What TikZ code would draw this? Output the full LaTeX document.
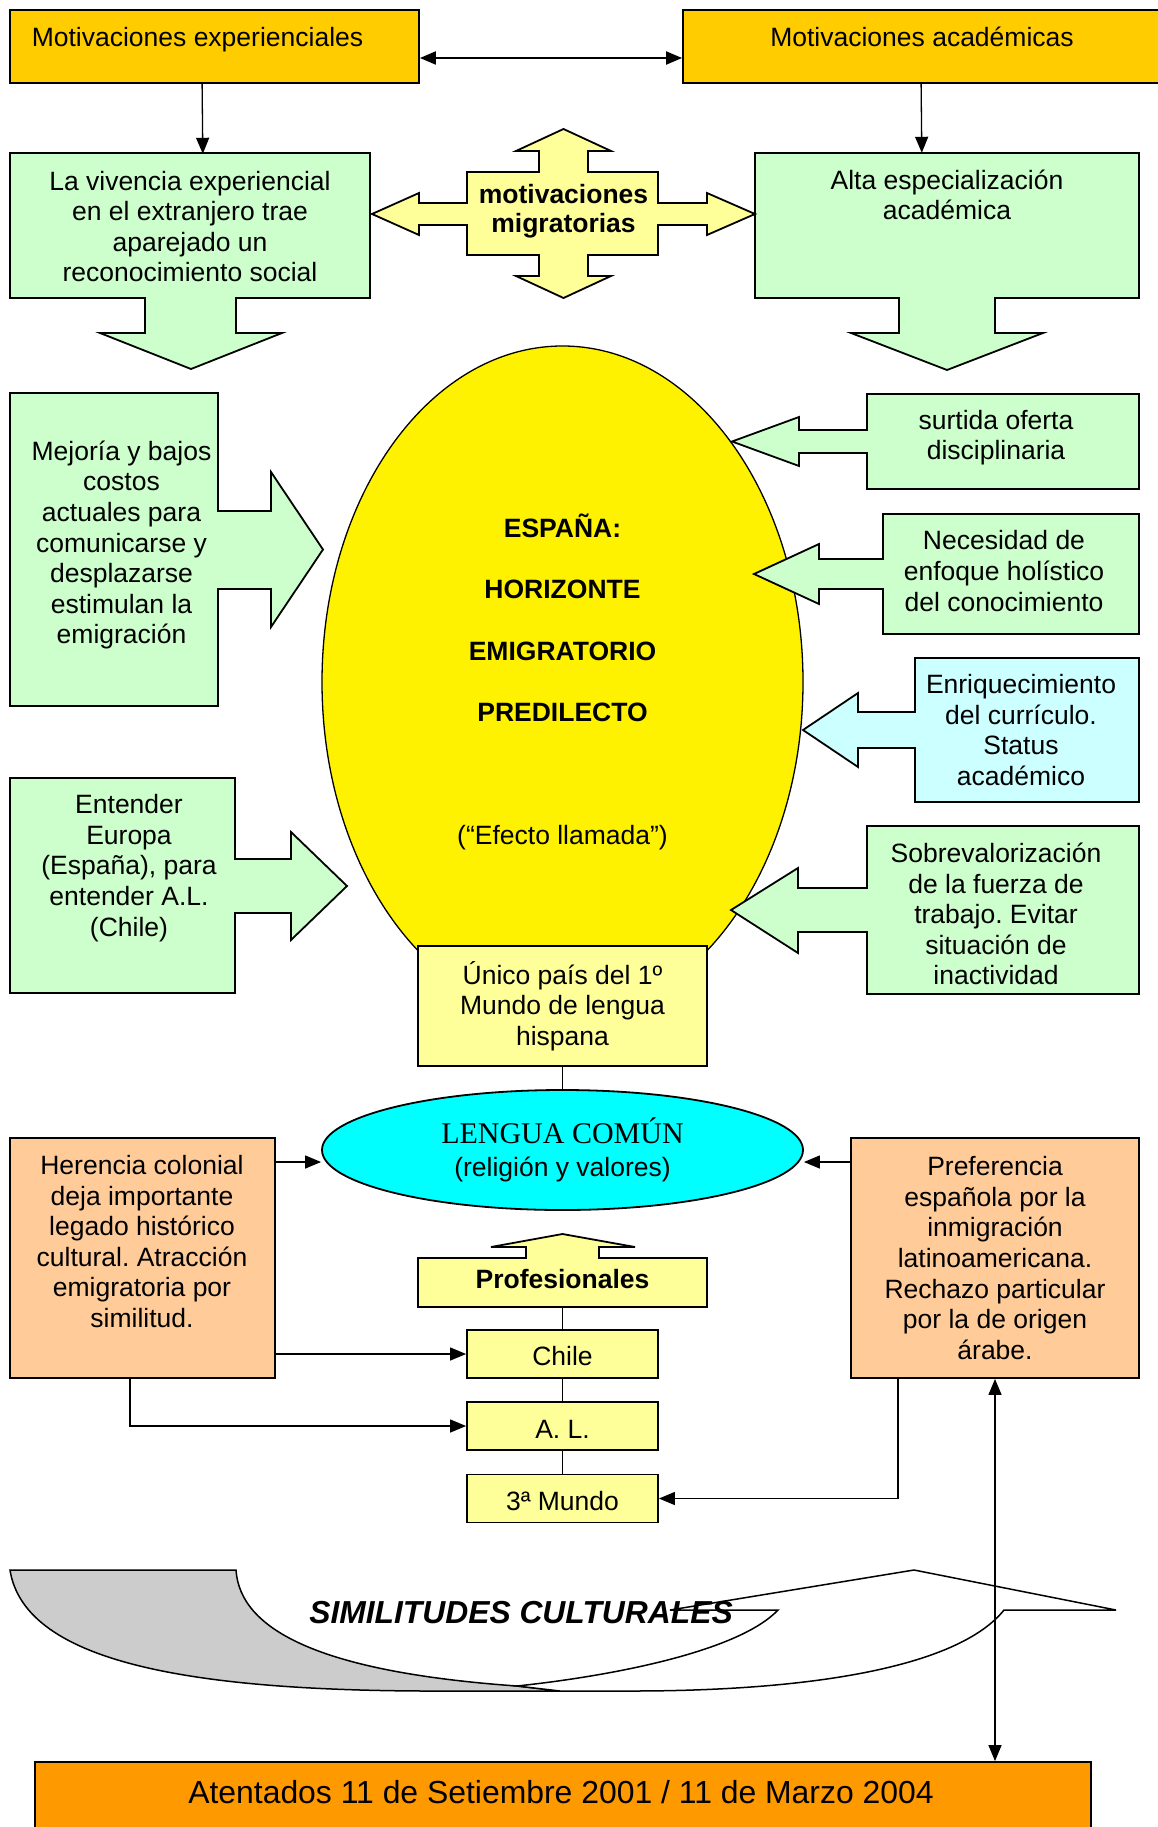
\documentclass[tikz,border=0pt]{standalone}
\usepackage{fontspec}
\setmainfont{Liberation Sans}
\newfontfamily\serifLS{Liberation Serif}
\usetikzlibrary{shapes.geometric,arrows.meta}
\definecolor{gold}{HTML}{FFCC00}
\definecolor{lgreen}{HTML}{CCFFCC}
\definecolor{lyellow}{HTML}{FFFF99}
\definecolor{lcyan}{HTML}{CCFFFF}
\definecolor{peach}{HTML}{FFCC99}
\definecolor{orng}{HTML}{FF9900}
\definecolor{aqua}{HTML}{00FFFF}
\definecolor{lgray}{HTML}{CCCCCC}
\frenchspacing
\begin{document}
\begin{tikzpicture}[x=1pt,y=-1pt,
  shp/.style={draw=black, line width=1.8pt, line join=miter},
  boxn/.style={shp, rectangle, inner sep=0pt},
  hid/.style={rectangle, inner sep=0pt},
  txt/.style={font=\fontsize{26.5}{30.6}\selectfont, align=center, inner sep=0pt},
  btxt/.style={font=\bfseries\fontsize{26.5}{29}\selectfont, align=center, inner sep=0pt},
  conn/.style={draw=black, line width=1.3pt},
  arrtip/.style={-{Triangle[length=16pt,width=13pt]}},
  dbltip/.style={{Triangle[length=16pt,width=13pt]}-{Triangle[length=16pt,width=13pt]}},
  smallbox/.style={boxn, fill=lyellow, txt, minimum width=191pt, minimum height=48pt, text height=24pt}
]
\useasboundingbox (0,0) rectangle (1157,1827);

% top boxes
\node[boxn, fill=gold, minimum width=409pt, minimum height=73pt] (me) at (214.5,46.5) {};
\node[txt] (met) at (197.5,39.5) {Motivaciones experienciales};
\node[boxn, fill=gold, minimum width=482pt, minimum height=73pt] (ma) at (924,46.5) {};
\node[txt] (mat) at (922,37) {Motivaciones académicas};
\coordinate (mL) at ([yshift=-11.5pt]me.east);
\draw[conn, line width=2pt, dbltip] (mL) -- (mL -| ma.west);

% La vivencia
\draw[shp, fill=lgreen] (10,153) -- (370,153) -- (370,298) -- (236,298) -- (236,333) -- (282,333) -- (191,369) -- (100,333) -- (145,333) -- (145,298) -- (10,298) -- cycle;
\node[hid, txt, minimum width=360pt, minimum height=145pt] (lv) at (190,226.5) {La vivencia experiencial\\en el extranjero trae\\aparejado un\\reconocimiento social};
\draw[conn, arrtip] ([xshift=193pt]me.south west) -- ([xshift=193pt]lv.north west);

% Alta especializacion
\draw[shp, fill=lgreen] (755,153) -- (1139,153) -- (1139,298) -- (995,298) -- (995,333) -- (1043,333) -- (947,370) -- (851,333) -- (899,333) -- (899,298) -- (755,298) -- cycle;
\node[hid, minimum width=384pt, minimum height=145pt] (ae) at (947,225.5) {};
\node[txt] (aet) at (947,195) {Alta especialización\\académica};
\draw[conn, arrtip] ([xshift=239pt]ma.south west) -- ([xshift=167pt]ae.north west);

% cross arrow
\draw[shp, fill=lyellow] (563.5,129) -- (611,151) -- (588,151) -- (588,172) -- (658,172) -- (658,203) -- (707,203) -- (707,193) -- (755,214) -- (707,235) -- (707,225) -- (658,225) -- (658,255) -- (588,255) -- (588,276) -- (611,276) -- (563.5,298) -- (516,276) -- (539,276) -- (539,255) -- (467,255) -- (467,225) -- (419,225) -- (419,235) -- (372,214) -- (419,193) -- (419,203) -- (467,203) -- (467,172) -- (539,172) -- (539,151) -- (516,151) -- cycle;
\node[btxt] (mm) at (563.5,211) {motivaciones\\migratorias};

% big ellipse
\node[ellipse, draw=black, line width=1.3pt, fill=yellow, minimum width=481pt, minimum height=672pt, inner sep=0pt, align=center, font=\fontsize{26.5}{61.5}\selectfont] (esp) at (562.5,682) {\textbf{ESPAÑA:}\\\textbf{HORIZONTE}\\\textbf{EMIGRATORIO}\\\textbf{PREDILECTO}\\[61.5pt](“Efecto llamada”)};

% Mejoria
\draw[shp, fill=lgreen] (10,393) -- (218,393) -- (218,511) -- (271,511) -- (271,472) -- (323,549.5) -- (271,627) -- (271,589) -- (218,589) -- (218,706) -- (10,706) -- cycle;
\node[txt] (mej) at (121.5,545) {Mejoría y bajos\\costos\\actuales para\\comunicarse y\\desplazarse\\estimulan la\\emigración};

% surtida
\draw[shp, fill=lgreen] (1139,394) -- (867,394) -- (867,430) -- (799,430) -- (799,417) -- (732,441.5) -- (799,466) -- (799,453) -- (867,453) -- (867,489) -- (1139,489) -- cycle;
\node[txt] (sur) at (996,437.5) {surtida oferta\\disciplinaria};

% Necesidad
\draw[shp, fill=lgreen] (1139,514) -- (883,514) -- (883,559) -- (819,559) -- (819,544) -- (754,574) -- (819,604) -- (819,589) -- (883,589) -- (883,634) -- (1139,634) -- cycle;
\node[txt] (nec) at (1004,571) {Necesidad de\\enfoque holístico\\del conocimiento};

% Enriquecimiento
\draw[shp, fill=lcyan] (1139,658) -- (915,658) -- (915,712) -- (858,712) -- (858,693) -- (803,730) -- (858,767) -- (858,748) -- (915,748) -- (915,802) -- (1139,802) -- cycle;
\node[txt] (enr) at (1021,730) {Enriquecimiento\\del currículo.\\Status\\académico};

% Entender
\draw[shp, fill=lgreen] (10,778) -- (235,778) -- (235,859) -- (291,859) -- (291,832) -- (347,886) -- (291,940) -- (291,913) -- (235,913) -- (235,993) -- (10,993) -- cycle;
\node[txt] (ent) at (129,868) {Entender\\Europa\\(España), para\\entender A.L.\\(Chile)};

% Sobrevalorizacion
\draw[shp, fill=lgreen] (1139,826) -- (867,826) -- (867,888) -- (798,888) -- (798,868) -- (731,910) -- (798,953) -- (798,932) -- (867,932) -- (867,994) -- (1139,994) -- cycle;
\node[txt] (sob) at (996,914) {Sobrevalorización\\de la fuerza de\\trabajo. Evitar\\situación de\\inactividad};

% Unico
\node[boxn, fill=lyellow, txt, minimum width=289pt, minimum height=120pt] (uni) at (562.5,1006) {Único país del 1º\\Mundo de lengua\\hispana};

% Lengua comun
\node[ellipse, draw=black, line width=1.8pt, fill=aqua, minimum width=481pt, minimum height=120pt, inner sep=0pt, align=center, font=\fontsize{26.5}{33}\selectfont] (len) at (562.5,1150) {{\serifLS\fontsize{30}{33}\selectfont LENGUA COMÚN}\\(religión y valores)};
\draw[conn] (uni.south) -- (len.north);

% Herencia / Preferencia
\node[boxn, fill=peach, minimum width=265pt, minimum height=240pt] (her) at (142.5,1258) {};
\node[txt] (hert) at (142,1241.5) {Herencia colonial\\deja importante\\legado histórico\\cultural. Atracción\\emigratoria por\\similitud.};
\node[boxn, fill=peach, txt, minimum width=288pt, minimum height=240pt] (pref) at (995,1258) {Preferencia\\española por la\\inmigración\\latinoamericana.\\Rechazo particular\\por la de origen\\árabe.};
\coordinate (hL) at ([yshift=96pt]her.east);
\draw[conn, arrtip] (hL) -- (hL -| len.west);
\coordinate (pL) at ([yshift=96pt]pref.west);
\draw[conn, arrtip] (pL) -- (pL -| len.east);

% Profesionales
\draw[shp, fill=lyellow] (418,1258) -- (526,1258) -- (526,1247) -- (491,1247) -- (562.5,1234) -- (635,1247) -- (599,1247) -- (599,1258) -- (707,1258) -- (707,1307) -- (418,1307) -- cycle;
\node[hid, btxt, minimum width=289pt, minimum height=49pt, text depth=7pt] (prof) at (562.5,1282.5) {Profesionales};

% small boxes
\node[smallbox] (chi) at (562.5,1354) {Chile};
\node[smallbox] (al) at (562.5,1426) {A. L.};
\node[smallbox] (tm) at (562.5,1498.5) {3ª Mundo};
\draw[conn] (prof.south) -- (chi.north);
\draw[conn] (chi.south) -- (al.north);
\draw[conn] (al.south) -- (tm.north);
\draw[conn, arrtip] (her.east |- chi.west) -- (chi.west);
\draw[conn, arrtip] ([xshift=121pt]her.south west) |- (al.west);
\draw[conn, arrtip] ([xshift=48pt]pref.south west) |- (tm.east);

% curved arrow
\draw[line width=1.5pt, fill=lgray, line join=miter] (10,1570) -- (236,1570) .. controls (240,1630) and (320,1672) .. (517,1686) -- (560,1691) -- (450,1691) .. controls (200,1692) and (25,1665) .. (10,1570) -- cycle;
\draw[line width=1.5pt, fill=white, line join=miter] (517,1686) .. controls (620,1675) and (740,1650) .. (778,1610) -- (670,1610) -- (914,1570) -- (1116,1610) -- (1004,1610) .. controls (960,1665) and (820,1691) .. (631,1691) -- (560,1691) -- cycle;
\node[font=\bfseries\itshape\fontsize{31.8}{36}\selectfont, inner sep=0pt] (sim) at (521,1613) {SIMILITUDES CULTURALES};

% Atentados
\node[boxn, fill=orng, minimum width=1056pt, minimum height=80pt] (ate) at (563,1802) {};
\node[font=\fontsize{31.9}{36}\selectfont, inner sep=0pt] (atet) at (561,1792) {Atentados 11 de Setiembre 2001 / 11 de Marzo 2004};
\draw[conn, dbltip] (pref.south) -- (pref.south |- ate.north);
\end{tikzpicture}
\end{document}
